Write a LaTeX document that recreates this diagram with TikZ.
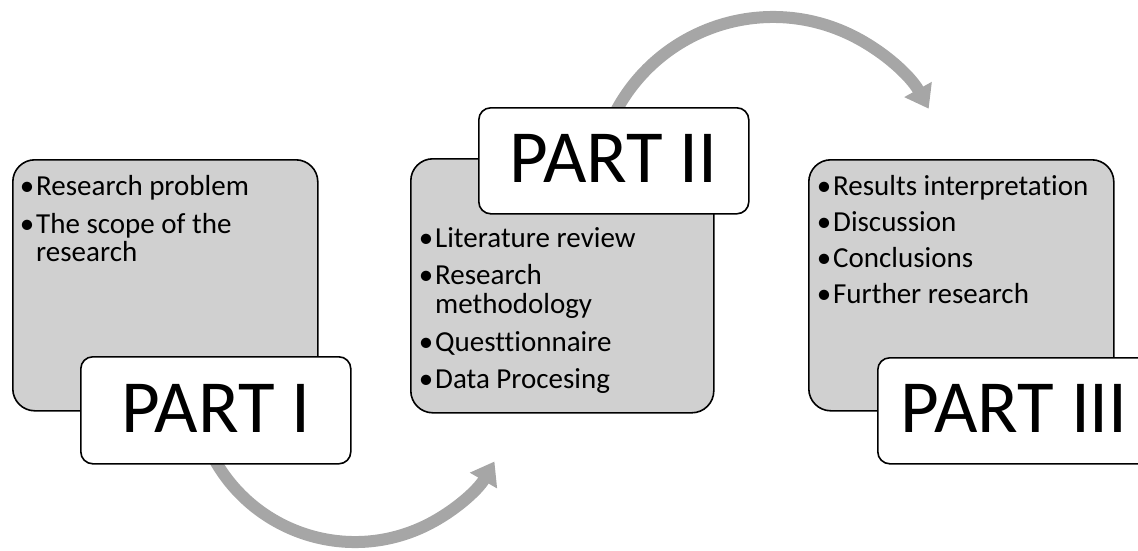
\documentclass[tikz,border=0pt]{standalone}
\usepackage{fontspec}
\setmainfont{Carlito}[Ligatures=NoCommon]
\usetikzlibrary{arrows.meta}
\definecolor{boxgrey}{HTML}{D0D0D0}
\definecolor{arrowgrey}{HTML}{A6A6A6}
\newcommand{\bul}{\llap{\textbullet\kern2pt}}
\begin{document}
\begin{tikzpicture}[x=1pt,y=1pt,
  greybox/.style={draw=black, line width=1.6pt, fill=boxgrey, rounded corners=22pt,
    anchor=north west, inner sep=0pt},
  partbox/.style={draw=black, line width=1.6pt, fill=white, rounded corners=12pt,
    anchor=north west, inner sep=0pt, font=\fontsize{75}{80}\selectfont, text depth=4pt},
  itemtext/.style={anchor=base west, inner sep=0pt, font=\fontsize{29}{31}\selectfont},
  cycarrow/.style={draw=arrowgrey, line width=12pt, -{Triangle[length=22pt,width=30pt]}}
]
\useasboundingbox (0,0) rectangle (1138,-550);
\clip (0,0) rectangle (1138,-550);

% centres of the two curved arrows
\coordinate (c1) at (355,-381);
\coordinate (c2) at (773,-195);

% curved arrows (drawn first, partly hidden by the boxes)
\draw[cycarrow] ([shift={(205:161)}]c1) arc[start angle=205, end angle=330, radius=161];
\draw[cycarrow] ([shift={(155:178)}]c2) arc[start angle=155, end angle=29, radius=178];

% grey content boxes
\node[greybox, minimum width=305pt, minimum height=251pt] (g1) at (12,-159) {};
\node[greybox, minimum width=303pt, minimum height=254pt] (g2) at (410,-158) {};
\node[greybox, minimum width=305pt, minimum height=251pt] (g3) at (808,-159) {};

% title boxes
\node[partbox, minimum width=270pt, minimum height=107pt] (p1) at (80,-356) {PART I};
\node[partbox, minimum width=270pt, minimum height=106pt] (p2) at (478,-107) {PART II};
\node[partbox, minimum width=273pt, minimum height=106pt] (p3) at (877,-357) {PART III};

% items, box 1
\node[itemtext] (a1) at (36,-195) {\bul Research problem};
\node[itemtext] (a2) at (36,-233) {\bul The scope of the};
\node[itemtext] (a3) at (36,-261) {research};

% items, box 2
\node[itemtext] (b1) at (435,-247) {\bul Literature review};
\node[itemtext] (b2) at (435,-284) {\bul Research};
\node[itemtext] (b3) at (435,-313) {methodology};
\node[itemtext] (b4) at (435,-351) {\bul Questtionnaire};
\node[itemtext] (b5) at (435,-388) {\bul Data Procesing};

% items, box 3
\node[itemtext] (d1) at (833,-195) {\bul Results interpretation};
\node[itemtext] (d2) at (833,-231) {\bul Discussion};
\node[itemtext] (d3) at (833,-267) {\bul Conclusions};
\node[itemtext] (d4) at (833,-303) {\bul Further research};
\end{tikzpicture}
\end{document}
